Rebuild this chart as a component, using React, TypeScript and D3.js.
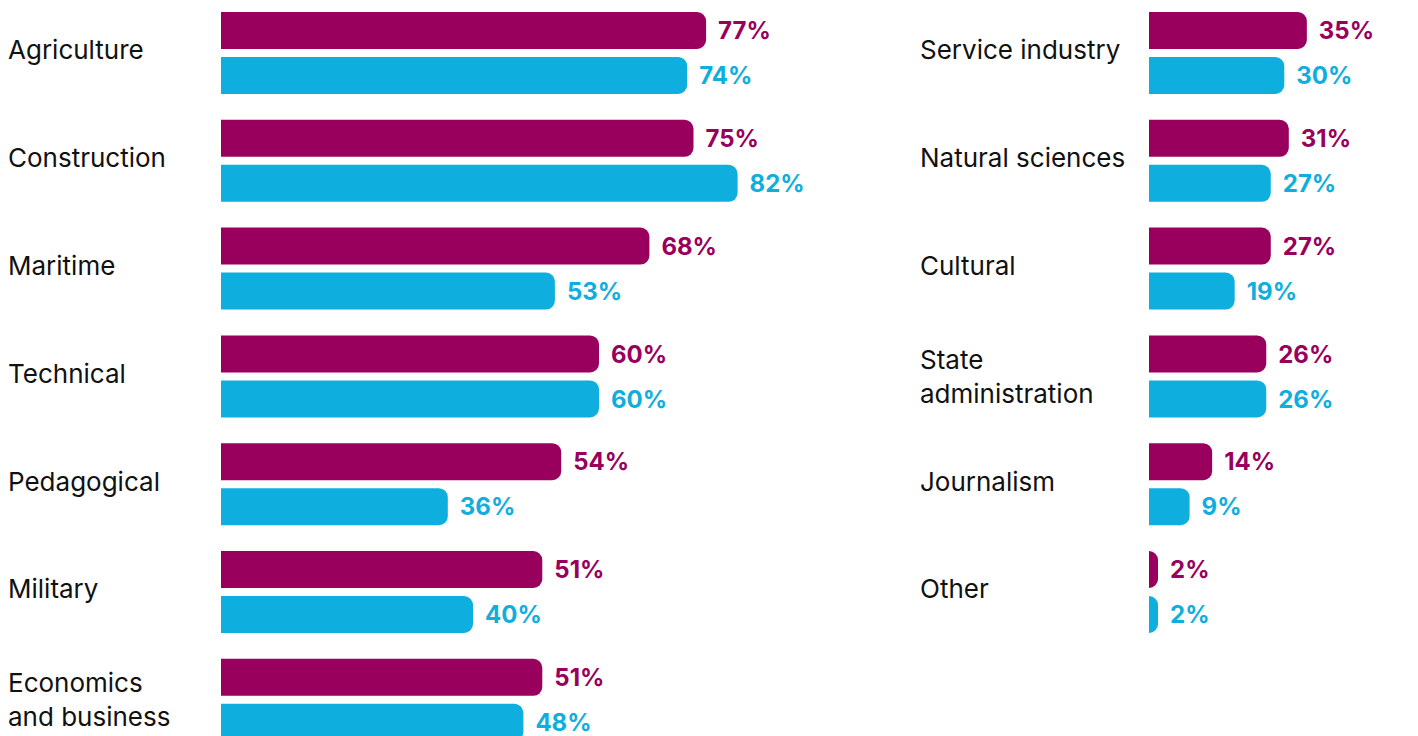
import React from "react";
import * as d3 from "d3";

const leftCategories = [
  ["Agriculture"],
  ["Construction"],
  ["Maritime"],
  ["Technical"],
  ["Pedagogical"],
  ["Military"],
  ["Economics", "and business"],
];
const leftSeriesA = [77, 75, 68, 60, 54, 51, 51];
const leftSeriesB = [74, 82, 53, 60, 36, 40, 48];

const rightCategories = [
  ["Service industry"],
  ["Natural sciences"],
  ["Cultural"],
  ["State", "administration"],
  ["Journalism"],
  ["Other"],
];
const rightSeriesA = [35, 31, 27, 26, 14, 2];
const rightSeriesB = [30, 27, 19, 26, 9, 2];

const PURPLE = "#99005E";
const BLUE = "#0EAEDF";
const FONT = "Inter, 'Noto Sans', sans-serif";

function barPath(x0: number, x1: number, y: number, h: number, r: number) {
  const w = Math.max(0, x1 - x0);
  const rr = Math.min(r, w, h / 2);
  const p = d3.path();
  p.moveTo(x0, y);
  p.lineTo(x0 + w - rr, y);
  p.arcTo(x0 + w, y, x0 + w, y + rr, rr);
  p.lineTo(x0 + w, y + h - rr);
  p.arcTo(x0 + w, y + h, x0 + w - rr, y + h, rr);
  p.lineTo(x0, y + h);
  p.closePath();
  return p.toString();
}

function Panel({
  cats,
  a,
  b,
  labelX,
  barX,
  pxPer100,
}: {
  cats: string[][];
  a: number[];
  b: number[];
  labelX: number;
  barX: number;
  pxPer100: number;
}) {
  const x = d3.scaleLinear().domain([0, 100]).range([barX, barX + pxPer100]);
  const y = d3
    .scaleBand<number>()
    .domain(d3.range(7))
    .range([12, 12 + 7 * 107.8])
    .paddingInner(0)
    .paddingOuter(0);
  const barH = 37;
  const gap = 8;
  return (
    <g>
      {cats.map((lines, i) => {
        const top = y(i)!;
        const mid = top + barH + gap / 2;
        const ya = top;
        const yb = top + barH + gap;
        return (
          <g key={i}>
            {lines.length === 1 ? (
              <text
                x={labelX}
                y={mid - 3}
                dy="0.36em"
                fontFamily={FONT}
                fontSize={26}
                fill="#111"
              >
                {lines[0]}
              </text>
            ) : (
              lines.map((t, j) => (
                <text
                  key={j}
                  x={labelX}
                  y={mid - 17 + j * 34}
                  dy="0.36em"
                  fontFamily={FONT}
                  fontSize={26}
                  fill="#111"
                >
                  {t}
                </text>
              ))
            )}
            <path d={barPath(x(0), x(a[i]), ya, barH, 9)} fill={PURPLE} />
            <path d={barPath(x(0), x(b[i]), yb, barH, 9)} fill={BLUE} />
            <text
              x={x(a[i]) + 12}
              y={ya + barH / 2}
              dy="0.36em"
              fontFamily={FONT}
              fontSize={24}
              fontWeight={700}
              fill={PURPLE}
            >
              {a[i]}%
            </text>
            <text
              x={x(b[i]) + 12}
              y={yb + barH / 2}
              dy="0.36em"
              fontFamily={FONT}
              fontSize={24}
              fontWeight={700}
              fill={BLUE}
            >
              {b[i]}%
            </text>
          </g>
        );
      })}
    </g>
  );
}

export default function App() {
  return (
    <svg
      width={1418}
      height={736}
      style={{ position: "absolute", left: 0, top: 0, display: "block", background: "#fff" }}
    >
      <Panel
        cats={leftCategories}
        a={leftSeriesA}
        b={leftSeriesB}
        labelX={8}
        barX={221}
        pxPer100={630}
      />
      <Panel
        cats={rightCategories}
        a={rightSeriesA}
        b={rightSeriesB}
        labelX={920}
        barX={1149}
        pxPer100={451}
      />
    </svg>
  );
}
